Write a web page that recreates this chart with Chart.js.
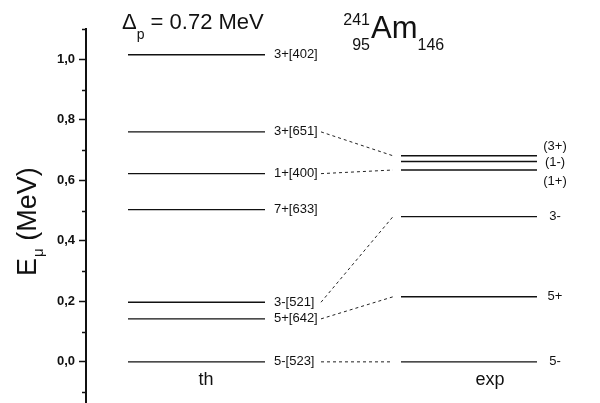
<!DOCTYPE html>
<html>
<head>
<meta charset="utf-8">
<script src="https://cdn.jsdelivr.net/npm/chart.js@4.4.0/dist/chart.umd.min.js"></script>
<style>
  html, body { margin: 0; padding: 0; background: #fff; overflow: hidden; }
  #wrap { width: 600px; height: 403px; position: relative; }
</style>
</head>
<body>
<div id="wrap"><canvas id="c"></canvas></div>
<script>
// Single-particle levels of 241Am: calculated (th) versus measured (exp), energies in MeV
const thLabels   = ['3+[402]', '3+[651]', '1+[400]', '7+[633]', '3-[521]', '5+[642]', '5-[523]'];
const thEnergies = [1.015, 0.760, 0.622, 0.503, 0.197, 0.142, 0.000];

const expLabels   = ['(3+)', '(1-)', '(1+)', '3-', '5+', '5-'];
const expEnergies = [0.681, 0.662, 0.634, 0.480, 0.215, 0.000];

// [th index, exp index] pairs joined by dashed lines
const links = [[1, 0], [2, 2], [4, 3], [5, 4], [6, 5]];

const columnNames = ['th', 'exp'];

const yMajorTicks  = [0.0, 0.2, 0.4, 0.6, 0.8, 1.0];
const yMajorLabels = ['0,0', '0,2', '0,4', '0,6', '0,8', '1,0'];
const yMinorTicks  = [-0.1, 0.1, 0.3, 0.5, 0.7, 0.9, 1.1];

// ---- layout (horizontal units: 100 px each, starting at the energy axis) ----
const X_MAX = 5.14;
const TH_SPAN = [0.42, 1.79];
const EXP_SPAN = [3.15, 4.51];
const LINK_SPAN = [2.35, 3.07];
const COLUMN_X = [1.20, 4.04];
const COLUMN_Y = -0.077;
const EXP_LABEL_SHIFT = [-9, 1, 11, 0, 0, 0]; // px, keeps the crowded labels apart
const FONT = '"Liberation Sans", Arial, Helvetica, sans-serif';

const levelDatasets = [];
thEnergies.forEach((e) => levelDatasets.push({
  data: [{ x: TH_SPAN[0], y: e }, { x: TH_SPAN[1], y: e }],
  borderColor: '#111', borderWidth: 1.4, pointRadius: 0, borderDash: []
}));
expEnergies.forEach((e) => levelDatasets.push({
  data: [{ x: EXP_SPAN[0], y: e }, { x: EXP_SPAN[1], y: e }],
  borderColor: '#111', borderWidth: 1.4, pointRadius: 0, borderDash: []
}));
links.forEach(([t, x]) => levelDatasets.push({
  data: [{ x: LINK_SPAN[0], y: thEnergies[t] }, { x: LINK_SPAN[1], y: expEnergies[x] }],
  borderColor: '#222', borderWidth: 1, pointRadius: 0, borderDash: [3, 3]
}));

const annotations = {
  id: 'annotations',
  afterDraw(chart) {
    const { ctx, scales: { x, y } } = chart;
    ctx.save();
    ctx.fillStyle = '#111';
    ctx.textBaseline = 'middle';

    // level labels
    ctx.font = '13px ' + FONT;
    ctx.textAlign = 'left';
    thLabels.forEach((t, i) => {
      ctx.fillText(t, x.getPixelForValue(TH_SPAN[1]) + 9, y.getPixelForValue(thEnergies[i]));
    });
    ctx.textAlign = 'center';
    expLabels.forEach((t, i) => {
      ctx.fillText(t, x.getPixelForValue(EXP_SPAN[1]) + 18, y.getPixelForValue(expEnergies[i]) + EXP_LABEL_SHIFT[i]);
    });

    // column names
    ctx.font = '18px ' + FONT;
    ctx.textBaseline = 'alphabetic';
    columnNames.forEach((n, i) => {
      ctx.fillText(n, x.getPixelForValue(COLUMN_X[i]), y.getPixelForValue(COLUMN_Y));
    });

    // minor ticks on the energy axis
    ctx.strokeStyle = '#111';
    ctx.lineWidth = 1.5;
    const ax = chart.chartArea.left;
    yMinorTicks.forEach((v) => {
      const py = Math.round(y.getPixelForValue(v)) + 0.5;
      ctx.beginPath();
      ctx.moveTo(ax - 4, py);
      ctx.lineTo(ax, py);
      ctx.stroke();
    });

    // axis title  E_mu (MeV)
    ctx.save();
    ctx.translate(36, 276);
    ctx.rotate(-Math.PI / 2);
    ctx.textAlign = 'left';
    ctx.textBaseline = 'alphabetic';
    ctx.font = '27px ' + FONT;
    ctx.fillText('E', 0, 0);
    let w = ctx.measureText('E').width;
    ctx.font = '15px ' + FONT;
    ctx.fillText('\u03bc', w + 1, 7);
    w += ctx.measureText('\u03bc').width + 1;
    ctx.font = '27px ' + FONT;
    ctx.fillText(' (MeV)', w, 0);
    ctx.restore();

    // pairing gap
    ctx.textAlign = 'left';
    ctx.font = '22px ' + FONT;
    ctx.fillText('\u0394', 122, 29);
    let px = 122 + ctx.measureText('\u0394').width;
    ctx.font = '14px ' + FONT;
    ctx.fillText('p', px, 39);
    px += ctx.measureText('p').width;
    ctx.font = '22px ' + FONT;
    ctx.fillText(' = 0.72 MeV', px, 29);

    // nucleus
    ctx.font = '16px ' + FONT;
    ctx.textAlign = 'right';
    ctx.fillText('241', 370, 25);
    ctx.fillText('95', 370, 50);
    ctx.textAlign = 'left';
    ctx.font = '31px ' + FONT;
    ctx.fillText('Am', 371, 38);
    const amW = ctx.measureText('Am').width;
    ctx.font = '16px ' + FONT;
    ctx.fillText('146', 371 + amW, 50);

    ctx.restore();
  }
};

new Chart(document.getElementById('c'), {
  type: 'scatter',
  data: { datasets: levelDatasets },
  options: {
    responsive: true,
    maintainAspectRatio: false,
    animation: false,
    showLine: true,
    layout: { padding: { top: 29, right: 0, bottom: 0, left: 0 } },
    plugins: { legend: { display: false }, tooltip: { enabled: false } },
    elements: { line: { tension: 0 } },
    scales: {
      x: { type: 'linear', min: 0, max: X_MAX, display: false },
      y: {
        type: 'linear', min: -0.136, max: 1.1,
        afterBuildTicks: (s) => { s.ticks = yMajorTicks.map((v) => ({ value: v })); },
        afterFit: (s) => { s.width = 86; s.paddingTop = 0; s.paddingBottom = 0; },
        ticks: {
          color: '#111', padding: 4,
          font: { family: FONT, size: 13, weight: 'bold' },
          callback: (v, i) => yMajorLabels[i]
        },
        grid: { drawOnChartArea: false, tickLength: 7, tickColor: '#111', tickWidth: 1.5 },
        border: { display: true, color: '#111', width: 2 }
      }
    }
  },
  plugins: [annotations]
});
</script>
</body>
</html>
